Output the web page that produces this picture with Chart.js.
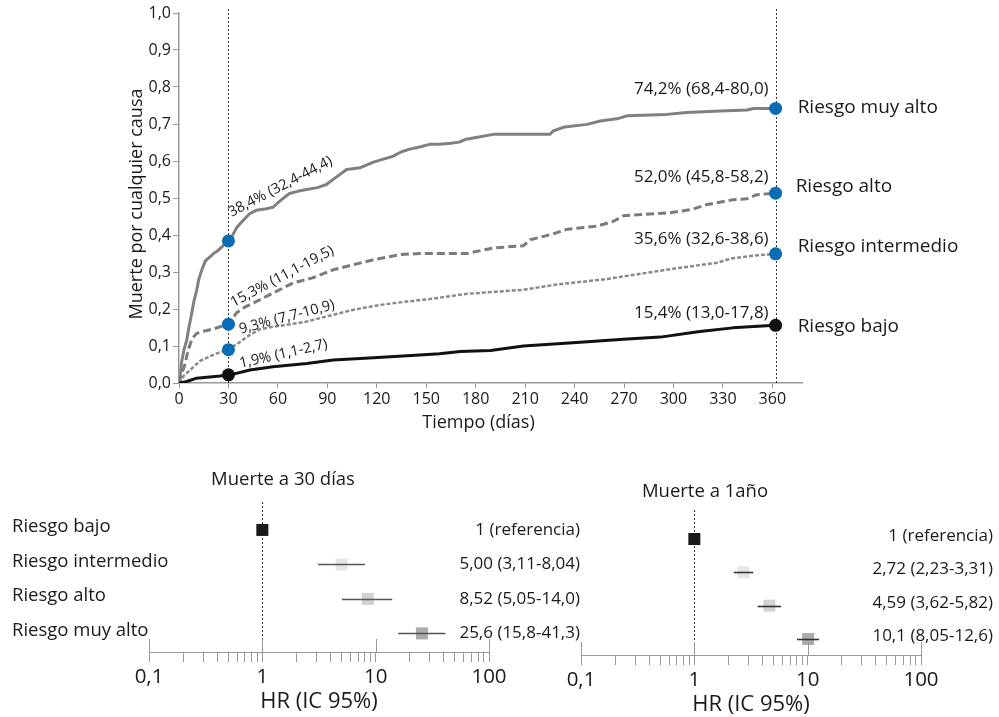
<!DOCTYPE html>
<html lang="es">
<head>
<meta charset="utf-8">
<title>Muerte por cualquier causa según grupo de riesgo</title>
<script src="https://cdn.jsdelivr.net/npm/chart.js@4.4.1/dist/chart.umd.min.js"></script>
<style>
  html, body { margin: 0; padding: 0; background: #fff; }
  #lienzo { position: relative; width: 999px; height: 717px; overflow: hidden; }
  canvas { position: absolute; left: 0; }
  #curvas { top: 0; }
  #forest30, #forest1a { top: 440px; }
</style>
</head>
<body>
<div id="lienzo">
  <canvas id="curvas" width="999" height="440"></canvas>
  <canvas id="forest30" width="999" height="277"></canvas>
  <canvas id="forest1a" width="999" height="277"></canvas>
</div>
<script>
const FUENTE = '"Open Sans", "Noto Sans", sans-serif';
const TEXTO = '#1a1a1a';
const EJE = '#999999';

// Grupos de riesgo (mismo orden en todas las listas)
const riesgos = ['Riesgo bajo', 'Riesgo intermedio', 'Riesgo alto', 'Riesgo muy alto'];

// Curvas de mortalidad acumulada: día y proporción
const bajoDias = [0, 4.7, 10.7, 25, 30, 33, 43, 57, 77.5, 93.6, 118, 146, 158, 170.6, 189, 209, 239, 269.7, 292, 316, 336, 348.6, 362];
const bajoValores = [0, 0.004, 0.013, 0.019, 0.022, 0.024, 0.035, 0.044, 0.053, 0.062, 0.068, 0.076, 0.079, 0.085, 0.088, 0.1, 0.109, 0.118, 0.124, 0.139, 0.149, 0.153, 0.156];

const intermedioDias = [0, 3, 8.7, 12.8, 18.8, 23, 30, 37, 43, 49, 57, 65, 77.5, 89.6, 105.9, 122, 138, 154, 174.7, 209, 229, 259.6, 279.8, 300, 326.5, 334.6, 348.6, 362];
const intermedioValores = [0, 0.02, 0.043, 0.06, 0.072, 0.08, 0.09, 0.111, 0.13, 0.145, 0.152, 0.157, 0.166, 0.18, 0.198, 0.211, 0.22, 0.228, 0.241, 0.252, 0.266, 0.281, 0.295, 0.309, 0.325, 0.336, 0.344, 0.349];

const altoDias = [0, 2, 3.6, 5.6, 8, 10.7, 15, 20.8, 25, 30, 35, 40, 45, 53, 61, 69, 81, 93.6, 105.9, 118, 134, 146, 158, 174.7, 190.7, 209, 213, 227, 235, 253.6, 263.6, 269.7, 298, 312, 320, 336, 344.7, 350.6, 362];
const altoValores = [0, 0.03, 0.05, 0.09, 0.12, 0.134, 0.14, 0.146, 0.152, 0.159, 0.19, 0.205, 0.216, 0.234, 0.252, 0.27, 0.284, 0.306, 0.32, 0.333, 0.347, 0.35, 0.35, 0.35, 0.365, 0.371, 0.387, 0.403, 0.415, 0.424, 0.437, 0.452, 0.46, 0.47, 0.482, 0.495, 0.498, 0.509, 0.513];

const muyAltoDias = [0, 1, 1.6, 3, 4.7, 6, 7.7, 9, 10.7, 12, 13.8, 16, 18.8, 21, 23.9, 26.5, 30, 32, 35, 39, 43, 47, 52, 57, 62, 67, 72, 77.5, 84, 89.6, 95, 101.7, 110, 118, 124, 130, 135, 140, 146, 152, 158, 165, 170, 173.6, 182, 190.7, 225, 227, 234, 247.5, 255.6, 265.7, 271.8, 296, 308, 328.5, 344.7, 348.6, 362];
const muyAltoValores = [0, 0.03, 0.057, 0.09, 0.116, 0.15, 0.188, 0.22, 0.25, 0.28, 0.305, 0.33, 0.341, 0.35, 0.359, 0.37, 0.384, 0.395, 0.42, 0.44, 0.458, 0.467, 0.47, 0.475, 0.495, 0.512, 0.518, 0.523, 0.528, 0.537, 0.555, 0.577, 0.582, 0.597, 0.605, 0.613, 0.625, 0.632, 0.638, 0.645, 0.645, 0.648, 0.651, 0.658, 0.665, 0.672, 0.672, 0.681, 0.692, 0.699, 0.708, 0.714, 0.722, 0.726, 0.731, 0.735, 0.738, 0.742, 0.742];

// Marcas a 30 días y al año
const marcaDias = [30, 362];
const marca30 = [0.022, 0.090, 0.159, 0.384];
const marca1a = [0.156, 0.349, 0.513, 0.742];
const pct30 = [1.9, 9.3, 15.3, 38.4];
const ic30Inf = [1.1, 7.7, 11.1, 32.4];
const ic30Sup = [2.7, 10.9, 19.5, 44.4];
const pct1a = [15.4, 35.6, 52.0, 74.2];
const ic1aInf = [13.0, 32.6, 45.8, 68.4];
const ic1aSup = [17.8, 38.6, 58.2, 80.0];

// Ticks de los ejes
const ticksDias = [0, 30, 60, 90, 120, 150, 180, 210, 240, 270, 300, 330, 360];
const ticksProp = [0, 0.1, 0.2, 0.3, 0.4, 0.5, 0.6, 0.7, 0.8, 0.9, 1.0];

// Hazard ratios (IC 95%)
const hr30 = [1, 5.00, 8.52, 25.6];
const hr30Inf = [null, 3.11, 5.05, 15.8];
const hr30Sup = [null, 8.04, 14.0, 41.3];
const hr1a = [1, 2.72, 4.59, 10.1];
const hr1aInf = [null, 2.23, 3.62, 8.05];
const hr1aSup = [null, 3.31, 5.82, 12.6];
const ticksHR = [0.1, 0.2, 0.3, 0.4, 0.5, 0.6, 0.7, 0.8, 0.9, 1, 2, 3, 4, 5, 6, 7, 8, 9, 10, 20, 30, 40, 50, 60, 70, 80, 90, 100];
const ticksHRMayores = [0.1, 1, 10, 100];

// ---- estilos ----
const estiloCurvas = [
  { color: '#111111', ancho: 3, guiones: [] },
  { color: '#8a8a8a', ancho: 2.5, guiones: [4, 2] },
  { color: '#7b7b7b', ancho: 3, guiones: [8, 4] },
  { color: '#808080', ancho: 3, guiones: [] }
];
const colorPunto = ['#111111', '#0a6cb4', '#0a6cb4', '#0a6cb4'];
const colorCuadro = ['#1a1a1a', '#e6e6e6', '#d2d2d2', '#ababab'];
// desplazamientos de los textos respecto a cada marca: [dx, dy, giro]
const posTexto30 = [[12, -7, -12.7], [12, -16, -14.7], [5, -17, -28], [3, -24, -27.5]];
const posTexto1a = [[-7, -12], [-7, -15], [-7, -16], [-7, -19]];
const posNombre = [[22, 1], [22, -7], [20, -7], [22, -1]];

function coma(v, dec) {
  return v.toFixed(dec).replace('.', ',');
}

// ---- curvas ----
const curvasDias = [bajoDias, intermedioDias, altoDias, muyAltoDias];
const curvasValores = [bajoValores, intermedioValores, altoValores, muyAltoValores];

const datasetsCurvas = riesgos.map((r, i) => ({
  type: 'line',
  label: r,
  data: curvasDias[i].map((d, j) => ({ x: d, y: curvasValores[i][j] })),
  borderColor: estiloCurvas[i].color,
  borderWidth: estiloCurvas[i].ancho,
  borderDash: estiloCurvas[i].guiones,
  borderJoinStyle: 'round',
  pointRadius: 0,
  fill: false,
  tension: 0,
  order: 2
}));

const datasetMarcas = {
  type: 'scatter',
  label: 'marcas',
  data: riesgos.flatMap((r, i) => [{ x: marcaDias[0], y: marca30[i] }, { x: marcaDias[1], y: marca1a[i] }]),
  pointBackgroundColor: riesgos.flatMap((r, i) => [colorPunto[i], colorPunto[i]]),
  pointBorderWidth: 0,
  pointRadius: 6.5,
  order: 0
};

const anotacionesCurvas = {
  id: 'anotacionesCurvas',
  beforeDatasetsDraw(chart) {
    const { ctx, chartArea, scales: { x } } = chart;
    ctx.save();
    ctx.strokeStyle = '#333';
    ctx.lineWidth = 1;
    ctx.setLineDash([2, 2]);
    marcaDias.forEach(d => {
      const px = Math.round(x.getPixelForValue(d)) + 0.5;
      ctx.beginPath();
      ctx.moveTo(px, 9);
      ctx.lineTo(px, chartArea.bottom);
      ctx.stroke();
    });
    ctx.restore();
  },
  afterDatasetsDraw(chart) {
    const { ctx, chartArea, scales: { x, y } } = chart;
    ctx.save();
    ctx.fillStyle = TEXTO;

    // textos a 30 días (inclinados)
    ctx.font = '14.5px ' + FUENTE;
    ctx.textAlign = 'left';
    ctx.textBaseline = 'alphabetic';
    riesgos.forEach((r, i) => {
      const [dx, dy, giro] = posTexto30[i];
      ctx.save();
      ctx.translate(x.getPixelForValue(marcaDias[0]) + dx, y.getPixelForValue(marca30[i]) + dy);
      ctx.rotate(giro * Math.PI / 180);
      ctx.fillText(coma(pct30[i], 1) + '% (' + coma(ic30Inf[i], 1) + '-' + coma(ic30Sup[i], 1) + ')', 0, 0);
      ctx.restore();
    });

    // textos al año
    ctx.font = '17px ' + FUENTE;
    ctx.textAlign = 'right';
    ctx.textBaseline = 'middle';
    riesgos.forEach((r, i) => {
      const [dx, dy] = posTexto1a[i];
      ctx.fillText(coma(pct1a[i], 1) + '% (' + coma(ic1aInf[i], 1) + '-' + coma(ic1aSup[i], 1) + ')',
        x.getPixelForValue(marcaDias[1]) + dx, y.getPixelForValue(marca1a[i]) + dy);
    });

    // nombres de grupo a la derecha
    ctx.font = '19px ' + FUENTE;
    ctx.textAlign = 'left';
    riesgos.forEach((r, i) => {
      const [dx, dy] = posNombre[i];
      ctx.fillText(r, x.getPixelForValue(marcaDias[1]) + dx, y.getPixelForValue(marca1a[i]) + dy);
    });

    // títulos de ejes
    ctx.font = '18px ' + FUENTE;
    ctx.textAlign = 'center';
    ctx.fillText('Tiempo (días)', (x.left + x.right) / 2 - 12, 423);
    ctx.save();
    ctx.translate(137, 204);
    ctx.rotate(-Math.PI / 2);
    ctx.fillText('Muerte por cualquier causa', 0, 0);
    ctx.restore();
    ctx.restore();
  }
};

new Chart(document.getElementById('curvas'), {
  type: 'line',
  data: { datasets: [datasetMarcas, ...datasetsCurvas] },
  options: {
    responsive: false,
    animation: false,
    events: [],
    layout: { padding: { top: 13, right: 197, left: 0, bottom: 0 } },
    plugins: { legend: { display: false }, tooltip: { enabled: false } },
    scales: {
      x: {
        type: 'linear',
        min: 0,
        max: 378,
        afterBuildTicks: s => { s.ticks = ticksDias.map(v => ({ value: v })); },
        afterFit: s => { s.height = 57; },
        grid: { drawOnChartArea: false, drawTicks: true, tickLength: 5, color: EJE },
        border: { color: EJE, width: 1.5 },
        ticks: { autoSkip: false, maxRotation: 0, padding: 2, color: TEXTO, font: { family: FUENTE, size: 16 } }
      },
      y: {
        type: 'linear',
        min: 0,
        max: 1,
        afterBuildTicks: s => { s.ticks = ticksProp.map(v => ({ value: v })); },
        afterFit: s => { s.width = 179; },
        grid: { drawOnChartArea: false, drawTicks: true, tickLength: 6, color: EJE },
        border: { color: EJE, width: 1.5 },
        ticks: { padding: 2, color: TEXTO, font: { family: FUENTE, size: 16 }, callback: v => coma(v, 1) }
      }
    }
  },
  plugins: [anotacionesCurvas]
});

// ---- forest plots ----
function esMayor(v) {
  return ticksHRMayores.some(m => Math.abs(m - v) < 1e-9);
}

function crearForest(id, hr, inf, sup, disp) {
  const dibujo = {
    id: 'dibujo' + id,
    beforeDatasetsDraw(chart) {
      const { ctx, chartArea, scales: { x } } = chart;
      ctx.save();
      ctx.strokeStyle = '#333';
      ctx.lineWidth = 1;
      ctx.setLineDash([2, 2]);
      const px = Math.round(x.getPixelForValue(1)) + 0.5;
      ctx.beginPath();
      ctx.moveTo(px, chartArea.top);
      ctx.lineTo(px, chartArea.bottom);
      ctx.stroke();
      ctx.restore();
    },
    afterDatasetsDraw(chart) {
      const { ctx, chartArea, scales: { x, y } } = chart;
      ctx.save();
      // intervalos de confianza
      ctx.strokeStyle = disp.colorIC;
      ctx.lineWidth = 1.6;
      hr.forEach((v, i) => {
        if (inf[i] == null) return;
        const py = Math.round(y.getPixelForValue(i)) + 0.5;
        ctx.beginPath();
        ctx.moveTo(x.getPixelForValue(inf[i]), py);
        ctx.lineTo(x.getPixelForValue(sup[i]), py);
        ctx.stroke();
      });
      // ticks mayores que cruzan el eje
      ctx.strokeStyle = EJE;
      ctx.lineWidth = 1;
      ticksHRMayores.forEach(m => {
        const px = Math.round(x.getPixelForValue(m)) + 0.5;
        ctx.beginPath();
        ctx.moveTo(px, chartArea.bottom - 13);
        ctx.lineTo(px, chartArea.bottom);
        ctx.stroke();
      });
      ctx.fillStyle = TEXTO;
      ctx.textBaseline = 'middle';
      // nombres de fila
      if (disp.filas) {
        ctx.font = '18.5px ' + FUENTE;
        ctx.textAlign = 'left';
        riesgos.forEach((r, i) => ctx.fillText(r, 12, y.getPixelForValue(i) - 3));
      }
      // valores
      ctx.font = '17px ' + FUENTE;
      ctx.textAlign = 'right';
      hr.forEach((v, i) => {
        const t = inf[i] == null ? '1 (referencia)'
          : v.toPrecision(3).replace('.', ',') + ' (' + inf[i].toPrecision(3).replace('.', ',') + '-' + sup[i].toPrecision(3).replace('.', ',') + ')';
        ctx.fillText(t, disp.valoresX, y.getPixelForValue(i) + disp.valoresDy);
      });
      // títulos
      ctx.textAlign = 'center';
      ctx.font = '18.5px ' + FUENTE;
      ctx.fillText(disp.titulo, disp.tituloX, disp.tituloY);
      ctx.font = '22px ' + FUENTE;
      ctx.fillText('HR (IC 95%)', (chartArea.left + chartArea.right) / 2, disp.ejeTituloY);
      ctx.restore();
    }
  };

  return new Chart(document.getElementById(id), {
    type: 'scatter',
    data: {
      datasets: [{
        label: disp.titulo,
        data: hr.map((v, i) => ({ x: v, y: i })),
        pointStyle: 'rect',
        pointRadius: 8.5,
        pointBorderWidth: 0,
        pointBackgroundColor: colorCuadro
      }]
    },
    options: {
      responsive: false,
      animation: false,
      events: [],
      layout: { padding: { top: disp.arriba, left: disp.izquierda, right: disp.derecha, bottom: 0 } },
      plugins: { legend: { display: false }, tooltip: { enabled: false } },
      scales: {
        x: {
          type: 'logarithmic',
          min: 0.1,
          max: 100,
          afterBuildTicks: s => { s.ticks = ticksHR.map(v => ({ value: v })); },
          afterFit: s => { s.height = disp.altoEje; },
          grid: { drawOnChartArea: false, drawTicks: true, tickLength: 10, color: EJE },
          border: { color: EJE, width: 1 },
          ticks: {
            autoSkip: false, maxRotation: 0, padding: 3, color: TEXTO,
            font: { family: FUENTE, size: 20.5 },
            callback: v => esMayor(v) ? String(v).replace('.', ',') : ''
          }
        },
        y: { type: 'linear', reverse: true, min: disp.yMin, max: disp.yMax, display: false }
      }
    },
    plugins: [dibujo]
  });
}

crearForest('forest30', hr30, hr30Inf, hr30Sup, {
  titulo: 'Muerte a 30 días', tituloX: 283, tituloY: 40, ejeTituloY: 262,
  izquierda: 149, derecha: 510, arriba: 62, altoEje: 65, yMin: -0.81, yMax: 3.54,
  valoresX: 580, valoresDy: 0, filas: true, colorIC: '#555'
});

crearForest('forest1a', hr1a, hr1aInf, hr1aSup, {
  titulo: 'Muerte a 1año', tituloX: 705, tituloY: 52, ejeTituloY: 265,
  izquierda: 581, derecha: 78, arriba: 70, altoEje: 62, yMin: -0.87, yMax: 3.48,
  valoresX: 993, valoresDy: -3, filas: false, colorIC: '#333'
});
</script>
</body>
</html>
